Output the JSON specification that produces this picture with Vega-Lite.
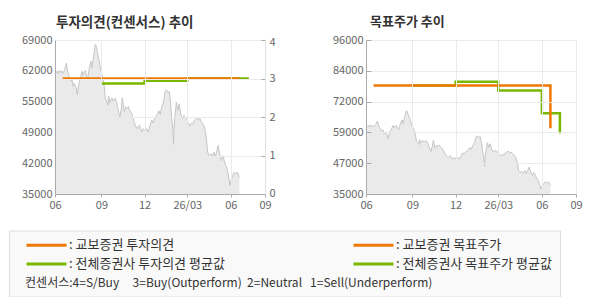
{
  "$schema": "https://vega.github.io/schema/vega-lite/v6.json",
  "padding": {"left": 8, "top": 15, "right": 0, "bottom": 0},
  "background": "white",
  "datasets": {
    "price": [
      {"date": "2025-05-26", "close": 62000}, {"date": "2025-05-28", "close": 61700}, {"date": "2025-05-30", "close": 62100},
      {"date": "2025-06-02", "close": 61600}, {"date": "2025-06-04", "close": 62300}, {"date": "2025-06-07", "close": 61800},
      {"date": "2025-06-09", "close": 62200}, {"date": "2025-06-11", "close": 61600}, {"date": "2025-06-13", "close": 62000},
      {"date": "2025-06-15", "close": 62400}, {"date": "2025-06-17", "close": 63000}, {"date": "2025-06-19", "close": 63900},
      {"date": "2025-06-20", "close": 63200}, {"date": "2025-06-22", "close": 61900}, {"date": "2025-06-24", "close": 61200},
      {"date": "2025-06-26", "close": 60600}, {"date": "2025-06-29", "close": 59900}, {"date": "2025-07-01", "close": 60300},
      {"date": "2025-07-03", "close": 58800}, {"date": "2025-07-06", "close": 59500}, {"date": "2025-07-08", "close": 58900},
      {"date": "2025-07-10", "close": 58400}, {"date": "2025-07-12", "close": 56900}, {"date": "2025-07-15", "close": 59100},
      {"date": "2025-07-17", "close": 60100}, {"date": "2025-07-19", "close": 60900}, {"date": "2025-07-22", "close": 62100},
      {"date": "2025-07-24", "close": 61200}, {"date": "2025-07-26", "close": 61700}, {"date": "2025-07-29", "close": 62300},
      {"date": "2025-08-01", "close": 60900}, {"date": "2025-08-03", "close": 60600}, {"date": "2025-08-05", "close": 61800},
      {"date": "2025-08-07", "close": 63200}, {"date": "2025-08-10", "close": 64300}, {"date": "2025-08-12", "close": 62800},
      {"date": "2025-08-14", "close": 64500}, {"date": "2025-08-16", "close": 65700}, {"date": "2025-08-19", "close": 68000},
      {"date": "2025-08-21", "close": 67600}, {"date": "2025-08-23", "close": 66500}, {"date": "2025-08-26", "close": 65000},
      {"date": "2025-08-29", "close": 63200}, {"date": "2025-09-02", "close": 61300}, {"date": "2025-09-05", "close": 60200},
      {"date": "2025-09-07", "close": 58800}, {"date": "2025-09-09", "close": 56200}, {"date": "2025-09-12", "close": 55500},
      {"date": "2025-09-15", "close": 54600}, {"date": "2025-09-16", "close": 56600}, {"date": "2025-09-19", "close": 55200},
      {"date": "2025-09-23", "close": 56200}, {"date": "2025-09-26", "close": 55500}, {"date": "2025-09-30", "close": 56200},
      {"date": "2025-10-03", "close": 55200}, {"date": "2025-10-07", "close": 53200}, {"date": "2025-10-10", "close": 51800},
      {"date": "2025-10-13", "close": 54000}, {"date": "2025-10-15", "close": 56300}, {"date": "2025-10-17", "close": 54800},
      {"date": "2025-10-19", "close": 53200}, {"date": "2025-10-22", "close": 54200}, {"date": "2025-10-25", "close": 53900},
      {"date": "2025-10-28", "close": 54300}, {"date": "2025-10-30", "close": 53500}, {"date": "2025-11-04", "close": 52800},
      {"date": "2025-11-07", "close": 51600}, {"date": "2025-11-10", "close": 50600}, {"date": "2025-11-12", "close": 50000},
      {"date": "2025-11-14", "close": 49600}, {"date": "2025-11-16", "close": 49400}, {"date": "2025-11-18", "close": 50000},
      {"date": "2025-11-20", "close": 50200}, {"date": "2025-11-23", "close": 49300}, {"date": "2025-11-25", "close": 48700},
      {"date": "2025-11-28", "close": 49400}, {"date": "2025-12-02", "close": 49000}, {"date": "2025-12-05", "close": 49500},
      {"date": "2025-12-07", "close": 49000}, {"date": "2025-12-09", "close": 48700}, {"date": "2025-12-11", "close": 49600},
      {"date": "2025-12-13", "close": 50200}, {"date": "2025-12-16", "close": 51300}, {"date": "2025-12-19", "close": 50700},
      {"date": "2025-12-22", "close": 51600}, {"date": "2025-12-24", "close": 52000}, {"date": "2025-12-28", "close": 52600},
      {"date": "2025-12-31", "close": 53400}, {"date": "2026-01-03", "close": 52600}, {"date": "2026-01-06", "close": 54100},
      {"date": "2026-01-10", "close": 55300}, {"date": "2026-01-13", "close": 57600}, {"date": "2026-01-16", "close": 58000},
      {"date": "2026-01-19", "close": 57400}, {"date": "2026-01-22", "close": 57600}, {"date": "2026-01-25", "close": 54900},
      {"date": "2026-01-27", "close": 51800}, {"date": "2026-01-29", "close": 50100}, {"date": "2026-01-31", "close": 46000},
      {"date": "2026-02-01", "close": 49500}, {"date": "2026-02-03", "close": 52000}, {"date": "2026-02-06", "close": 55300},
      {"date": "2026-02-09", "close": 53400}, {"date": "2026-02-12", "close": 54900}, {"date": "2026-02-15", "close": 52800},
      {"date": "2026-02-19", "close": 51600}, {"date": "2026-02-22", "close": 52300}, {"date": "2026-02-25", "close": 52000},
      {"date": "2026-02-28", "close": 51600}, {"date": "2026-03-03", "close": 50700}, {"date": "2026-03-06", "close": 50000},
      {"date": "2026-03-10", "close": 50700}, {"date": "2026-03-13", "close": 50400}, {"date": "2026-03-16", "close": 51300},
      {"date": "2026-03-19", "close": 51600}, {"date": "2026-03-22", "close": 52000}, {"date": "2026-03-25", "close": 51300},
      {"date": "2026-03-28", "close": 51600}, {"date": "2026-04-01", "close": 50700}, {"date": "2026-04-04", "close": 50400},
      {"date": "2026-04-07", "close": 49400}, {"date": "2026-04-10", "close": 47600}, {"date": "2026-04-13", "close": 44300},
      {"date": "2026-04-16", "close": 43500}, {"date": "2026-04-20", "close": 43900}, {"date": "2026-04-23", "close": 43300},
      {"date": "2026-04-26", "close": 44300}, {"date": "2026-04-29", "close": 43200}, {"date": "2026-05-02", "close": 44300},
      {"date": "2026-05-05", "close": 45700}, {"date": "2026-05-09", "close": 43500}, {"date": "2026-05-12", "close": 42400},
      {"date": "2026-05-15", "close": 43500}, {"date": "2026-05-18", "close": 42400}, {"date": "2026-05-21", "close": 41300},
      {"date": "2026-05-24", "close": 40600}, {"date": "2026-05-28", "close": 38300}, {"date": "2026-05-30", "close": 36900},
      {"date": "2026-06-02", "close": 38300}, {"date": "2026-06-05", "close": 39100}, {"date": "2026-06-08", "close": 39800},
      {"date": "2026-06-11", "close": 39400}, {"date": "2026-06-15", "close": 39800}, {"date": "2026-06-18", "close": 38700},
      {"date": "2026-06-19", "close": 38700}
    ],
    "opinion": [
      {"date": "2025-06-11", "series": "교보증권 투자의견", "value": 3},
      {"date": "2026-06-19", "series": "교보증권 투자의견", "value": 3},
      {"date": "2025-09-01", "series": "전체증권사 투자의견 평균값", "value": 2.87},
      {"date": "2025-12-01", "series": "전체증권사 투자의견 평균값", "value": 2.94},
      {"date": "2026-03-01", "series": "전체증권사 투자의견 평균값", "value": 3.0},
      {"date": "2026-06-01", "series": "전체증권사 투자의견 평균값", "value": 3.0},
      {"date": "2026-07-09", "series": "전체증권사 투자의견 평균값", "value": 3.0}
    ],
    "target": [
      {"date": "2025-06-11", "series": "교보증권 목표주가", "value": 78000},
      {"date": "2026-06-19", "series": "교보증권 목표주가", "value": 61000},
      {"date": "2025-09-01", "series": "전체증권사 목표주가 평균값", "value": 78000},
      {"date": "2025-12-01", "series": "전체증권사 목표주가 평균값", "value": 79500},
      {"date": "2026-03-01", "series": "전체증권사 목표주가 평균값", "value": 76000},
      {"date": "2026-06-01", "series": "전체증권사 목표주가 평균값", "value": 67000},
      {"date": "2026-07-09", "series": "전체증권사 목표주가 평균값", "value": 59000}
    ]
  },
  "config": {
    "font": "Noto Sans CJK KR",
    "view": {"stroke": "#e2e2e2", "strokeWidth": 1},
    "axis": {
      "labelFont": "Noto Sans CJK KR", "labelFontSize": 11, "labelColor": "#666666",
      "domainColor": "#aaaaaa", "tickColor": "#aaaaaa", "gridColor": "#ebebeb", "labelOverlap": false
    },
    "title": {"font": "Noto Sans CJK KR", "fontSize": 13, "fontWeight": "bold", "color": "#333333", "anchor": "start", "offset": 5, "frame": "group"},
    "concat": {"spacing": 35}
  },
  "resolve": {"scale": {"color": "shared"}},
  "hconcat": [
    {
      "width": 210, "height": 154,
      "title": {"text": "투자의견(컨센서스) 추이", "dx": 1, "fontSize": 13.5},
      "layer": [
        {
          "data": {"name": "price"},
          "mark": {"type": "area", "clip": true, "color": "#e1e1e1", "line": {"color": "#c6c6c6", "strokeWidth": 1}},
          "encoding": {
            "x": {"field": "date", "type": "temporal",
              "scale": {"type": "utc", "nice": false, "domain": [{"year": 2025, "month": 5, "date": 26, "utc": true}, {"year": 2026, "month": 8, "date": 12, "utc": true}]},
              "axis": {"orient": "bottom", "title": null, "grid": true, "zindex": 1, "tickSize": 3, "labelPadding": 2, "labelFlush": false, "labelOverlap": false, "tickCount": 20,
                "values": [{"year": 2025, "month": 5, "date": 26, "utc": true}, {"year": 2025, "month": 9, "date": 1, "utc": true}, {"year": 2025, "month": 12, "date": 1, "utc": true}, {"year": 2026, "month": 3, "date": 1, "utc": true}, {"year": 2026, "month": 6, "date": 1, "utc": true}, {"year": 2026, "month": 8, "date": 12, "utc": true}],
                "labelExpr": "utcmonth(datum.value)==2 ? '26/03' : (utcmonth(datum.value)==4 ? '06' : (utcmonth(datum.value)==7 ? '09' : utcFormat(datum.value, '%m')))"}},
            "y": {"field": "close", "type": "quantitative",
              "scale": {"domain": [35000, 69000], "nice": false, "zero": false},
              "axis": {"orient": "left", "title": null, "grid": false, "ticks": false, "labelPadding": 3, "minExtent": 46, "maxExtent": 46, "zindex": 1, "labelOverlap": false, "tickCount": 20,
                "values": [35000, 41800, 48600, 55400, 62200, 69000],
                "labelExpr": "format(round(datum.value/1000)*1000, 'd')"}}
          }
        },
        {
          "layer": [
            {
              "data": {"name": "opinion"},
              "transform": [{"filter": "datum.series == '전체증권사 투자의견 평균값'"}],
              "mark": {"type": "line", "interpolate": "step-after", "strokeWidth": 2.5},
              "encoding": {
                "x": {"field": "date", "type": "temporal",
                  "scale": {"type": "utc", "nice": false, "domain": [{"year": 2025, "month": 5, "date": 26, "utc": true}, {"year": 2026, "month": 8, "date": 12, "utc": true}]},
                  "axis": {"orient": "top", "title": null, "labels": false, "ticks": false, "grid": false, "domainColor": "#aaaaaa", "minExtent": 0, "maxExtent": 0}},
                "y": {"field": "value", "type": "quantitative",
                  "scale": {"domain": [0, 4], "nice": false},
                  "axis": {"orient": "right", "title": null, "values": [0, 1, 2, 3, 4], "tickCount": 20, "labelExpr": "format(datum.value, 'd')", "grid": true, "zindex": 1, "tickSize": -4, "labelPadding": 8, "labelFlush": true, "labelFlushOffset": 4, "domainColor": "#e2e2e2", "minExtent": 20, "maxExtent": 20, "labelOverlap": false}},
                "color": {"field": "series", "type": "nominal",
                  "scale": {"domain": ["교보증권 투자의견", "전체증권사 투자의견 평균값", "교보증권 목표주가", "전체증권사 목표주가 평균값"], "range": ["#f07800", "#7ab800", "#f07800", "#7ab800"]},
                  "legend": {
                    "orient": "none", "legendX": -46, "legendY": 190.5,
                    "columns": 2, "columnPadding": 119, "rowPadding": 5,
                    "symbolType": "M3,0H43", "symbolSize": 4, "symbolStrokeWidth": 3,
                    "labelOffset": 39, "labelFont": "Noto Sans CJK KR", "labelFontSize": 13, "labelColor": "#333333", "labelLimit": 400,
                    "labelExpr": "': ' + datum.label",
                    "fillColor": "#f9f9f9", "strokeColor": "#dddddd", "padding": 8,
                    "title": "\u200b\u00a0\u00a0\u00a0컨센서스:4=S/Buy\u00a0\u00a0\u00a0\u00a0 3=Buy(Outperform)\u00a0 2=Neutral\u00a0\u00a0 1=Sell(Underperform)",
                    "titleOrient": "bottom", "titleFont": "Noto Sans CJK KR", "titleFontSize": 12, "titleFontWeight": "normal", "titleColor": "#333333", "titlePadding": 6, "titleLimit": 600
                  }}
              }
            },
            {
              "data": {"name": "opinion"},
              "transform": [{"filter": "datum.series == '교보증권 투자의견'"}],
              "mark": {"type": "line", "interpolate": "step-after", "strokeWidth": 2.5},
              "encoding": {
                "x": {"field": "date", "type": "temporal", "scale": {"type": "utc", "nice": false, "domain": [{"year": 2025, "month": 5, "date": 26, "utc": true}, {"year": 2026, "month": 8, "date": 12, "utc": true}]}},
                "y": {"field": "value", "type": "quantitative"},
                "color": {"field": "series", "type": "nominal"}
              }
            }
          ]
        }
      ],
      "resolve": {"scale": {"y": "independent"}, "axis": {"x": "independent"}}
    },
    {
      "width": 210, "height": 154,
      "title": {"text": "목표주가 추이", "dx": 4},
      "layer": [
        {
          "data": {"name": "price"},
          "mark": {"type": "area", "clip": true, "color": "#e1e1e1", "line": {"color": "#c6c6c6", "strokeWidth": 1}},
          "encoding": {
            "x": {"field": "date", "type": "temporal",
              "scale": {"type": "utc", "nice": false, "domain": [{"year": 2025, "month": 5, "date": 26, "utc": true}, {"year": 2026, "month": 8, "date": 12, "utc": true}]},
              "axis": {"orient": "bottom", "title": null, "grid": true, "zindex": 1, "tickSize": 3, "labelPadding": 2, "labelFlush": false, "labelOverlap": false, "tickCount": 20,
                "values": [{"year": 2025, "month": 5, "date": 26, "utc": true}, {"year": 2025, "month": 9, "date": 1, "utc": true}, {"year": 2025, "month": 12, "date": 1, "utc": true}, {"year": 2026, "month": 3, "date": 1, "utc": true}, {"year": 2026, "month": 6, "date": 1, "utc": true}, {"year": 2026, "month": 8, "date": 12, "utc": true}],
                "labelExpr": "utcmonth(datum.value)==2 ? '26/03' : (utcmonth(datum.value)==4 ? '06' : (utcmonth(datum.value)==7 ? '09' : utcFormat(datum.value, '%m')))"}},
            "y": {"field": "close", "type": "quantitative",
              "scale": {"domain": [35000, 96000], "nice": false, "zero": false},
              "axis": {"orient": "left", "title": null, "grid": true, "zindex": 1, "tickSize": -5, "labelPadding": 8, "minExtent": 44, "maxExtent": 44, "labelOverlap": false, "tickCount": 20,
                "values": [35000, 47200, 59400, 71600, 83800, 96000],
                "labelExpr": "format(round(datum.value/1000)*1000, 'd')"}}
          }
        },
        {
          "data": {"name": "target"},
          "transform": [{"filter": "datum.series == '전체증권사 목표주가 평균값'"}],
          "mark": {"type": "line", "interpolate": "step-after", "strokeWidth": 2.5},
          "encoding": {
            "x": {"field": "date", "type": "temporal",
              "scale": {"type": "utc", "nice": false, "domain": [{"year": 2025, "month": 5, "date": 26, "utc": true}, {"year": 2026, "month": 8, "date": 12, "utc": true}]},
              "axis": {"orient": "top", "title": null, "labels": false, "ticks": false, "grid": false, "domainColor": "#aaaaaa", "minExtent": 0, "maxExtent": 0}},
            "y": {"field": "value", "type": "quantitative"},
            "color": {"field": "series", "type": "nominal"}
          }
        },
        {
          "data": {"name": "target"},
          "transform": [{"filter": "datum.series == '교보증권 목표주가'"}],
          "mark": {"type": "line", "interpolate": "step-after", "strokeWidth": 2.5},
          "encoding": {
            "x": {"field": "date", "type": "temporal", "axis": null,
              "scale": {"type": "utc", "nice": false, "domain": [{"year": 2025, "month": 5, "date": 26, "utc": true}, {"year": 2026, "month": 8, "date": 12, "utc": true}]}},
            "y": {"field": "value", "type": "quantitative"},
            "color": {"field": "series", "type": "nominal"}
          }
        }
      ],
      "resolve": {"axis": {"x": "independent"}}
    }
  ]
}
